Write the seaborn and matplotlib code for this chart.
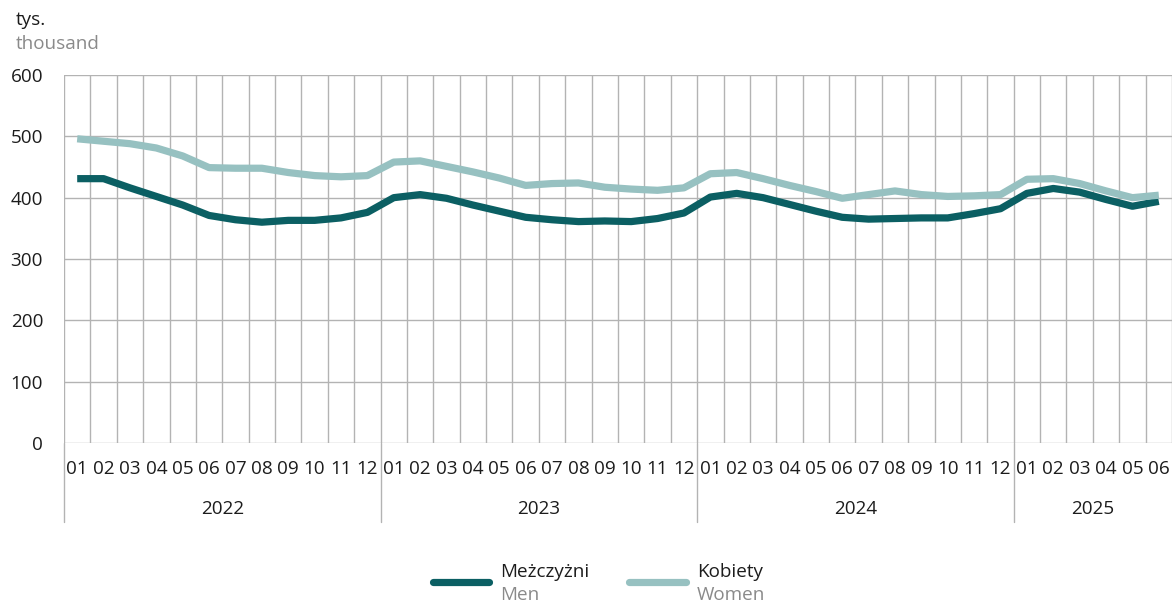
import matplotlib
matplotlib.use("Agg")
import matplotlib.pyplot as plt
from matplotlib.lines import Line2D
import seaborn as sns
import pandas as pd
import numpy as np

years = ["2022", "2023", "2024", "2025"]
months_per_year = [12, 12, 12, 6]
month_labels = ["01", "02", "03", "04", "05", "06", "07", "08", "09", "10", "11", "12"]

men = [431, 431, 416, 402, 388, 371, 364, 360, 363, 363, 367, 376,
       400, 405, 399, 388, 378, 368, 364, 361, 362, 361, 366, 375,
       401, 407, 400, 389, 378, 368, 365, 366, 367, 367, 374, 382,
       407, 415, 409, 397, 386, 394]
women = [496, 492, 488, 481, 468, 449, 448, 448, 441, 436, 434, 436,
         458, 460, 451, 442, 432, 420, 423, 424, 417, 414, 412, 416,
         439, 441, 431, 420, 410, 399, 405, 411, 405, 402, 403, 405,
         430, 431, 423, 411, 400, 404]

series_pl = ["Meżczyżni", "Kobiety"]
series_en = ["Men", "Women"]
colors = ["#0b5f63", "#97c1c1"]

tick_text = []
for ny in months_per_year:
    tick_text += month_labels[:ny]
n = len(tick_text)

df = pd.DataFrame({
    "idx": list(range(n)) * 2,
    "value": men + women,
    "series": [series_pl[0]] * n + [series_pl[1]] * n,
})

sns.set_theme(style="white")
plt.rcParams["font.family"] = ["Open Sans", "DejaVu Sans"]

FS = 13.6
DARK = "#1c1c1c"
GRAY = "#8a8a8a"

fig = plt.figure(figsize=(11.72, 6.05), dpi=100)
fig.patch.set_facecolor("white")
ax = fig.add_axes([64 / 1172, (605 - 443) / 605, (1172 - 64) / 1172, 368 / 605])

sns.lineplot(data=df, x="idx", y="value", hue="series", palette=colors,
             linewidth=5.2, ax=ax, legend=False, zorder=3)
for l in ax.lines:
    l.set_solid_capstyle("butt")
    l.set_solid_joinstyle("round")

ax.set_xlim(-0.5, n - 0.5)
ax.set_ylim(0, 600)
ax.set_yticks(range(0, 601, 100))
ax.set_xticks(range(n))
ax.set_xticklabels(tick_text)
ax.set_xticks(np.arange(-0.5, n, 1.0), minor=True)
ax.set_xlabel("")
ax.set_ylabel("")

grid_c = "#b3b3b3"
ax.grid(False)
ax.grid(axis="y", which="major", color=grid_c, linewidth=1.0, zorder=0)
ax.grid(axis="x", which="minor", color=grid_c, linewidth=1.0, zorder=0)
for s in ["top", "right", "bottom", "left"]:
    ax.spines[s].set_visible(False)

ax.tick_params(axis="x", which="both", length=0, pad=12.5, labelsize=FS, labelcolor=DARK)
ax.tick_params(axis="y", which="both", length=0, pad=15, labelsize=FS, labelcolor=DARK)

# year separators and labels
start = 0
trans = ax.get_xaxis_transform()
for yr, ny in zip(years, months_per_year):
    x0 = start - 0.5
    ax.add_line(Line2D([x0, x0], [0, -0.2147], transform=trans, color=grid_c,
                       linewidth=1.0, clip_on=False))
    ax.text(start + ny / 2 - 0.5, -0.1793, yr, transform=trans, ha="center", va="center",
            fontsize=FS, color=DARK)
    start += ny

fig.text(16 / 1172, 1 - 20 / 605, "tys.", ha="left", va="center", fontsize=FS, color=DARK)
fig.text(16 / 1172, 1 - 44 / 605, "thousand", ha="left", va="center", fontsize=FS, color=GRAY)

# legend
leg = [(433, 489, 500), (629, 686, 697)]
for (x1, x2, xt), c, pl, en in zip(leg, colors, series_pl, series_en):
    fig.add_artist(Line2D([x1 / 1172, x2 / 1172], [(605 - 582) / 605] * 2,
                          transform=fig.transFigure, color=c, linewidth=5.2,
                          solid_capstyle="round"))
    fig.text(xt / 1172, (605 - 572) / 605, pl, ha="left", va="center", fontsize=FS, color=DARK)
    fig.text(xt / 1172, (605 - 595) / 605, en, ha="left", va="center", fontsize=FS, color=GRAY)

fig.savefig("out.png", dpi=100, facecolor="white")
